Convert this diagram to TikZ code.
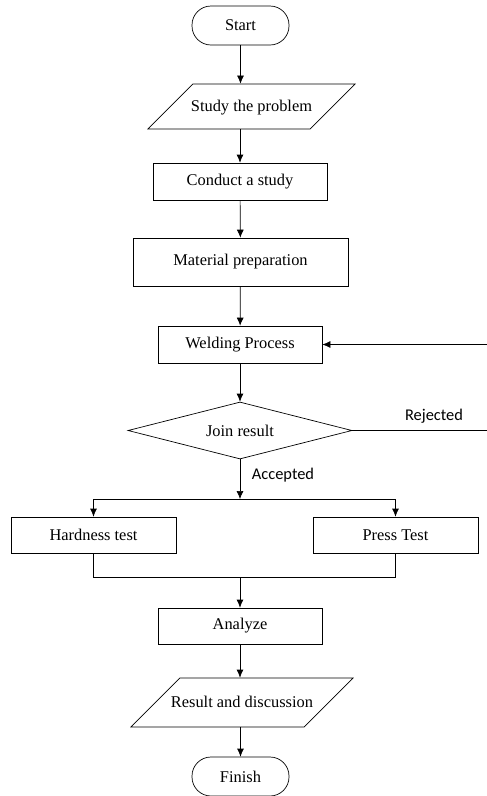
\documentclass[tikz,border=0pt]{standalone}
\usepackage{fontspec}
\setmainfont{Liberation Serif}
\newfontfamily\labelfont{Carlito}
\usetikzlibrary{shapes,arrows,positioning,arrows.meta}

\begin{document}
\begin{tikzpicture}[x=1pt,y=-1pt,line width=0.7pt,font=\fontsize{16.4}{19}\selectfont]
    \tikzstyle{block} = [rectangle, draw, minimum width=164pt, minimum height=37pt,
               inner sep=0pt, align=center]
    \tikzstyle{terminal} = [rectangle, draw, rounded corners=19pt,
               minimum width=97pt, minimum height=39pt]
    \tikzstyle{io} = [trapezium, draw, trapezium left angle=45,
               trapezium right angle=135, trapezium stretches body,
               text height=12pt, text depth=3pt, inner xsep=-2pt, inner ysep=15pt]
    \tikzstyle{decision} = [diamond, draw, aspect=3.9, minimum width=224pt,
               minimum height=57pt, inner sep=0pt]
    \tikzstyle{tag} = [font=\labelfont\fontsize{16.4}{19}\selectfont]
    \tikzstyle{line} = [draw, -{Latex[length=8pt,width=7pt]}]

    \useasboundingbox (0,0) rectangle (487,796);

    % Define nodes
    \node [terminal] (start) at (240.5,25.5) {Start};
    \node [io, minimum width=207pt] (problem) at (251.5,106.5) {Study the problem};
    \node [block, minimum width=174pt] (study) at (240,181.5) {Conduct a study};
    \node [block, minimum width=215pt, minimum height=48pt] (material) at (240.5,262)
      {Material preparation};
    \node [block] (welding) at (240,344.5) {Welding Process};
    \node [decision] (join) at (240,430.5) {Join result};
    \node [block, minimum width=165pt, minimum height=36pt] (hardness) at (93.5,535)
      {Hardness test};
    \node [block, minimum width=165pt, minimum height=36pt] (press) at (395.5,535)
      {Press Test};
    \node [block, minimum height=36pt] (analyze) at (240,626) {Analyze};
    \node [io, minimum width=222pt, inner xsep=-9pt, inner ysep=17pt] (result)
      at (242,702.5) {Result and discussion};
    \node [terminal] (finish) at (240.5,776.5) {Finish};

    \node [tag] (rejected) at (434,416) {Rejected};
    \node [tag] (accepted) at (283,475) {Accepted};

    \coordinate (branch) at (240,499);
    \coordinate (merge) at (240,577);
    \coordinate (weldin) at (487,344.5);
    \coordinate (rejout) at (487,430.5);

    % Draw edges
    \draw [line] (start) -- (start |- problem.north);
    \draw [line] (study |- problem.south) -- (study);
    \draw [line] (study) -- (material);
    \draw [line] (material) -- (welding);
    \draw [line] (welding) -- (join);
    \draw [line] (weldin) -- (welding);
    \draw (join) -- (rejout);

    \draw [line] (join) -- (branch);
    \draw [line] (branch) -| (hardness);
    \draw [line] (branch) -| (press);
    \draw (hardness) |- (merge);
    \draw (press) |- (merge);
    \draw [line] (merge) -- (analyze);

    \draw [line] (analyze) -- (analyze |- result.north);
    \draw [line] (finish |- result.south) -- (finish);

  \end{tikzpicture}
\end{document}
